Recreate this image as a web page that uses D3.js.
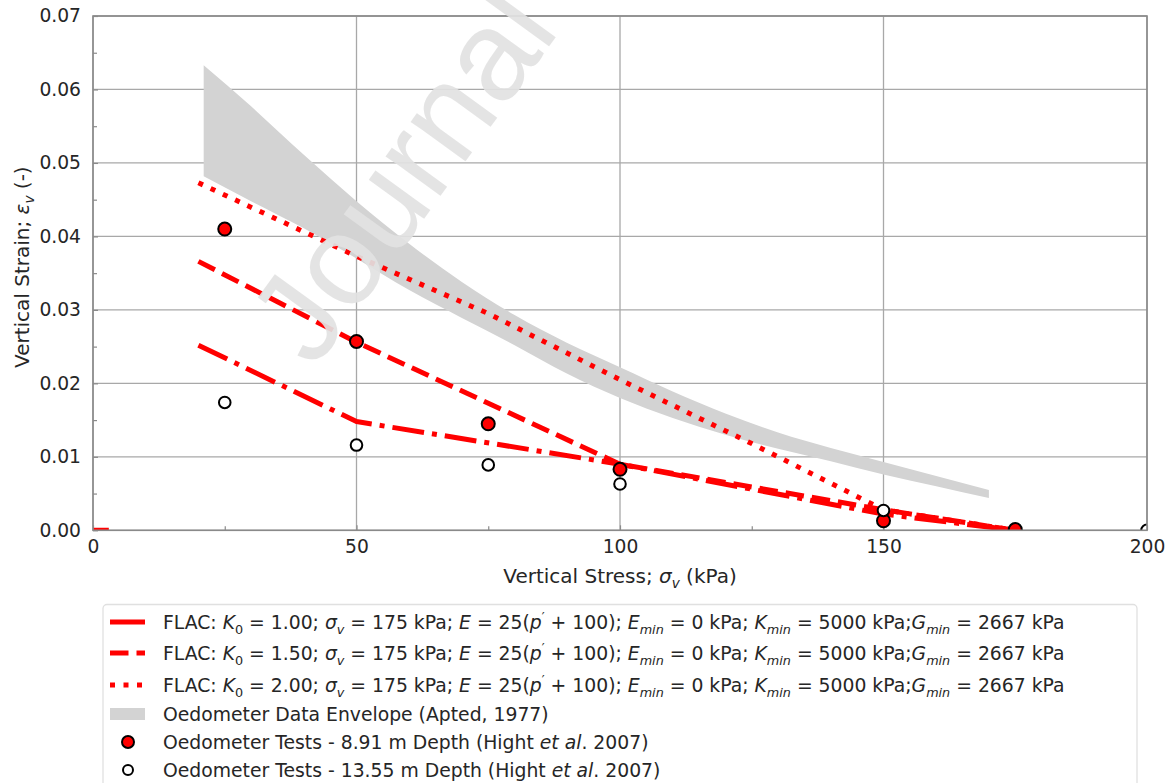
<!DOCTYPE html>
<html>
<head>
<meta charset="utf-8">
<script src="https://cdn.jsdelivr.net/npm/d3@7"></script>
<style>
  html, body { margin: 0; padding: 0; background: #fff; }
  svg { display: block; }
  text { font-family: "DejaVu Sans", sans-serif; }
</style>
</head>
<body>
<svg id="chart" width="1173" height="783"></svg>
<script>
// ---------------- data ----------------
const xTicks = [0, 50, 100, 150, 200];
const yTicks = [0, 0.01, 0.02, 0.03, 0.04, 0.05, 0.06, 0.07];
const xMinorTicks = [25, 75, 125, 175];
const yMinorTicks = [0.005, 0.015, 0.025, 0.035, 0.045, 0.055, 0.065];

// envelope (Apted, 1977)
const envX     = [21, 30, 40, 50, 60, 70, 80, 90, 100, 110, 120, 130, 140, 150, 160, 170];
const envUpper = [0.0633, 0.0577, 0.0511, 0.0448, 0.0390, 0.0338, 0.0293, 0.0255, 0.0222, 0.0189, 0.0159, 0.0133, 0.0112, 0.0093, 0.0074, 0.0055];
const envLower = [0.0482, 0.0448, 0.0411, 0.0370, 0.0327, 0.0289, 0.0252, 0.0213, 0.0180, 0.0153, 0.0130, 0.0111, 0.0094, 0.0076, 0.0060, 0.0044];

// FLAC runs
const k100Stress = [0, 3];
const k100Strain = [0, 0];
const k100bStress = [20, 50, 100, 150, 175];
const k100bStrain = [0.0252, 0.0148, 0.0090, 0.0022, 0.0];
const k150Stress = [20, 50, 100, 150, 175];
const k150Strain = [0.0366, 0.0256, 0.0090, 0.0028, 0.0];
const k200Stress = [20, 50, 75, 100, 125, 150, 175];
const k200Strain = [0.0473, 0.0373, 0.0295, 0.0205, 0.0118, 0.0028, 0.0];

// oedometer tests
const depth891Stress = [25, 50, 75, 100, 150, 175];
const depth891Strain = [0.0410, 0.0257, 0.0145, 0.0083, 0.0013, 0.0001];
const depth1355Stress = [25, 50, 75, 100, 150, 200];
const depth1355Strain = [0.0174, 0.0116, 0.0089, 0.0063, 0.0027, 0.0];

// ---------------- layout ----------------
const svg = d3.select("#chart");
const L = 93, R = 1147, T = 16, B = 530.3;
const x = d3.scaleLinear().domain([0, 200]).range([L, R]);
const y = d3.scaleLinear().domain([0, 0.07]).range([B, T]);
const LW = 5;
const RED = "#ff0000";
const GRID = "#a8a8a8";
const SPINE = "#8a8a8a";
const TXT = "#262626";
const TICKFS = 18.7, LABELFS = 20, LEGFS = 18.8;

svg.append("defs").append("clipPath").attr("id", "plotclip")
  .append("rect").attr("x", L).attr("y", T).attr("width", R - L).attr("height", B - T);

// grid
const grid = svg.append("g");
grid.selectAll(".gx").data(xTicks).join("line")
  .attr("x1", d => x(d)).attr("x2", d => x(d)).attr("y1", T).attr("y2", B)
  .attr("stroke", GRID).attr("stroke-width", 1.3);
grid.selectAll(".gy").data(yTicks).join("line")
  .attr("y1", d => y(d)).attr("y2", d => y(d)).attr("x1", L).attr("x2", R)
  .attr("stroke", GRID).attr("stroke-width", 1.3);

// axes (ticks inward)
const xAxis = d3.axisBottom(x).tickValues(xTicks).tickFormat(d3.format("d")).tickSize(-5).tickPadding(9);
const yAxis = d3.axisLeft(y).tickValues(yTicks).tickFormat(d3.format(".2f")).tickSize(-5).tickPadding(12);
const gx = svg.append("g").attr("transform", `translate(0,${B})`).call(xAxis);
const gy = svg.append("g").attr("transform", `translate(${L},0)`).call(yAxis);
const gxm = svg.append("g").attr("transform", `translate(0,${B})`)
  .call(d3.axisBottom(x).tickValues(xMinorTicks).tickFormat("").tickSize(-4));
const gym = svg.append("g").attr("transform", `translate(${L},0)`)
  .call(d3.axisLeft(y).tickValues(yMinorTicks).tickFormat("").tickSize(-4));
[gx, gy, gxm, gym].forEach(g => {
  g.select(".domain").remove();
  g.selectAll(".tick line").attr("stroke", SPINE).attr("stroke-width", 1.2);
  g.selectAll("text").attr("fill", TXT).style("font-size", TICKFS + "px")
    .style("font-family", "'DejaVu Sans', sans-serif");
});

// plot content
const plot = svg.append("g").attr("clip-path", "url(#plotclip)");

const envData = envX.map((v, i) => ({ x: v, lo: envLower[i], hi: envUpper[i] }));
plot.append("path").datum(envData)
  .attr("d", d3.area().x(d => x(d.x)).y0(d => y(d.lo)).y1(d => y(d.hi)).curve(d3.curveMonotoneX))
  .attr("fill", "#d3d3d3");

const line = d3.line().x(d => x(d[0])).y(d => y(d[1]));
function drawLine(xs, ys, dash) {
  plot.append("path").datum(xs.map((v, i) => [v, ys[i]]))
    .attr("d", line).attr("fill", "none").attr("stroke", RED)
    .attr("stroke-width", LW).attr("stroke-linecap", "butt").attr("stroke-linejoin", "round")
    .attr("stroke-dasharray", dash);
}
drawLine(k100Stress, k100Strain, null);
drawLine(k100bStress, k100bStrain, "32 8 5 8");
drawLine(k150Stress, k150Strain, "18.5 8");
drawLine(k200Stress, k200Strain, "5 8.5");

plot.selectAll(".m891").data(depth891Stress.map((v, i) => [v, depth891Strain[i]])).join("circle")
  .attr("cx", d => x(d[0])).attr("cy", d => y(d[1])).attr("r", 6.5)
  .attr("fill", RED).attr("stroke", "#000").attr("stroke-width", 2);
plot.selectAll(".m1355").data(depth1355Stress.map((v, i) => [v, depth1355Strain[i]])).join("circle")
  .attr("cx", d => x(d[0])).attr("cy", d => y(d[1])).attr("r", 5.8)
  .attr("fill", "#fff").attr("stroke", "#000").attr("stroke-width", 2);

// spines
svg.append("rect").attr("x", L).attr("y", T).attr("width", R - L).attr("height", B - T)
  .attr("fill", "none").attr("stroke", SPINE).attr("stroke-width", 1.6);

// rich-text helper
function rich(sel, segs) {
  let off = 0;
  const fs = parseFloat(sel.style("font-size"));
  segs.forEach(s => {
    const seg = typeof s === "string" ? { t: s } : s;
    const ts = sel.append("tspan").text(seg.t);
    let target = 0;
    if (seg.sub) target = 0.24;
    if (seg.sup) target = -0.45;
    const dy = (target - off) * fs;
    if (dy !== 0) ts.attr("dy", dy);
    off = target;
    if (seg.i) ts.attr("font-style", "italic");
    if (seg.sub || seg.sup) ts.attr("font-size", (fs * 0.68) + "px");
  });
}

// axis labels
const xl = svg.append("text").attr("x", (L + R) / 2).attr("y", 583)
  .attr("text-anchor", "middle").attr("fill", TXT).style("font-size", LABELFS + "px");
rich(xl, ["Vertical Stress; ", { t: "σ", i: true }, { t: "v", i: true, sub: true }, { t: " (kPa)" }]);

const yl = svg.append("text").attr("transform", `translate(29,${(T + B) / 2 - 6}) rotate(-90)`)
  .attr("text-anchor", "middle").attr("fill", TXT).style("font-size", LABELFS + "px");
rich(yl, ["Vertical Strain; ", { t: "ε", i: true }, { t: "v", i: true, sub: true }, { t: " (-)" }]);

// legend
const legendLabels = ["1.00", "1.50", "2.00"];
const legendDashes = [null, "18.5 8", "5 8.5"];
const legendOther = [
  "Oedometer Data Envelope (Apted, 1977)",
  "Oedometer Tests - 8.91 m Depth (Hight ",
  "Oedometer Tests - 13.55 m Depth (Hight "
];
const lg = svg.append("g");
lg.append("rect").attr("x", 103).attr("y", 604.5).attr("width", 1034).attr("height", 200)
  .attr("rx", 4).attr("fill", "#fff").attr("stroke", "#e0e0e0").attr("stroke-width", 1.3);
const rowY = [622, 653, 685, 714, 742, 770];
const hx0 = 110, hx1 = 145, tx = 163;
legendLabels.forEach((k, i) => {
  lg.append("line").attr("x1", hx0).attr("x2", hx1).attr("y1", rowY[i]).attr("y2", rowY[i])
    .attr("stroke", RED).attr("stroke-width", LW).attr("stroke-dasharray", legendDashes[i]);
  const t = lg.append("text").attr("x", tx).attr("y", rowY[i] + 7).attr("fill", TXT).style("font-size", LEGFS + "px");
  rich(t, [
    "FLAC: ", { t: "K", i: true }, { t: "0", sub: true }, { t: " = " + k + "; " },
    { t: "σ", i: true }, { t: "v", i: true, sub: true }, { t: " = 175 kPa; " },
    { t: "E", i: true }, " = 25(", { t: "p", i: true }, { t: "′", sup: true }, { t: " + 100); " },
    { t: "E", i: true }, { t: "min", i: true, sub: true }, { t: " = 0 kPa; " },
    { t: "K", i: true }, { t: "min", i: true, sub: true }, { t: " = 5000 kPa;" },
    { t: "G", i: true }, { t: "min", i: true, sub: true }, { t: " = 2667 kPa" }
  ]);
});
lg.append("rect").attr("x", hx0).attr("y", rowY[3] - 6).attr("width", hx1 - hx0).attr("height", 12).attr("fill", "#d3d3d3");
lg.append("text").attr("x", tx).attr("y", rowY[3] + 7).attr("fill", TXT).style("font-size", LEGFS + "px").text(legendOther[0]);
lg.append("circle").attr("cx", 128).attr("cy", rowY[4]).attr("r", 6).attr("fill", RED).attr("stroke", "#000").attr("stroke-width", 2);
lg.append("circle").attr("cx", 128).attr("cy", rowY[5]).attr("r", 5).attr("fill", "#fff").attr("stroke", "#000").attr("stroke-width", 2);
[4, 5].forEach((r, j) => {
  const t = lg.append("text").attr("x", tx).attr("y", rowY[r] + 7).attr("fill", TXT).style("font-size", LEGFS + "px");
  rich(t, [legendOther[1 + j], { t: "et al", i: true }, ". 2007)"]);
});

// watermark
svg.append("text").attr("transform", "translate(314,370) rotate(-54)")
  .attr("fill", "#e2e2e2").attr("fill-opacity", 0.92)
  .style("font-family", "'Liberation Sans', Arial, sans-serif").style("font-size", "128px")
  .text("Journal");
</script>
</body>
</html>
